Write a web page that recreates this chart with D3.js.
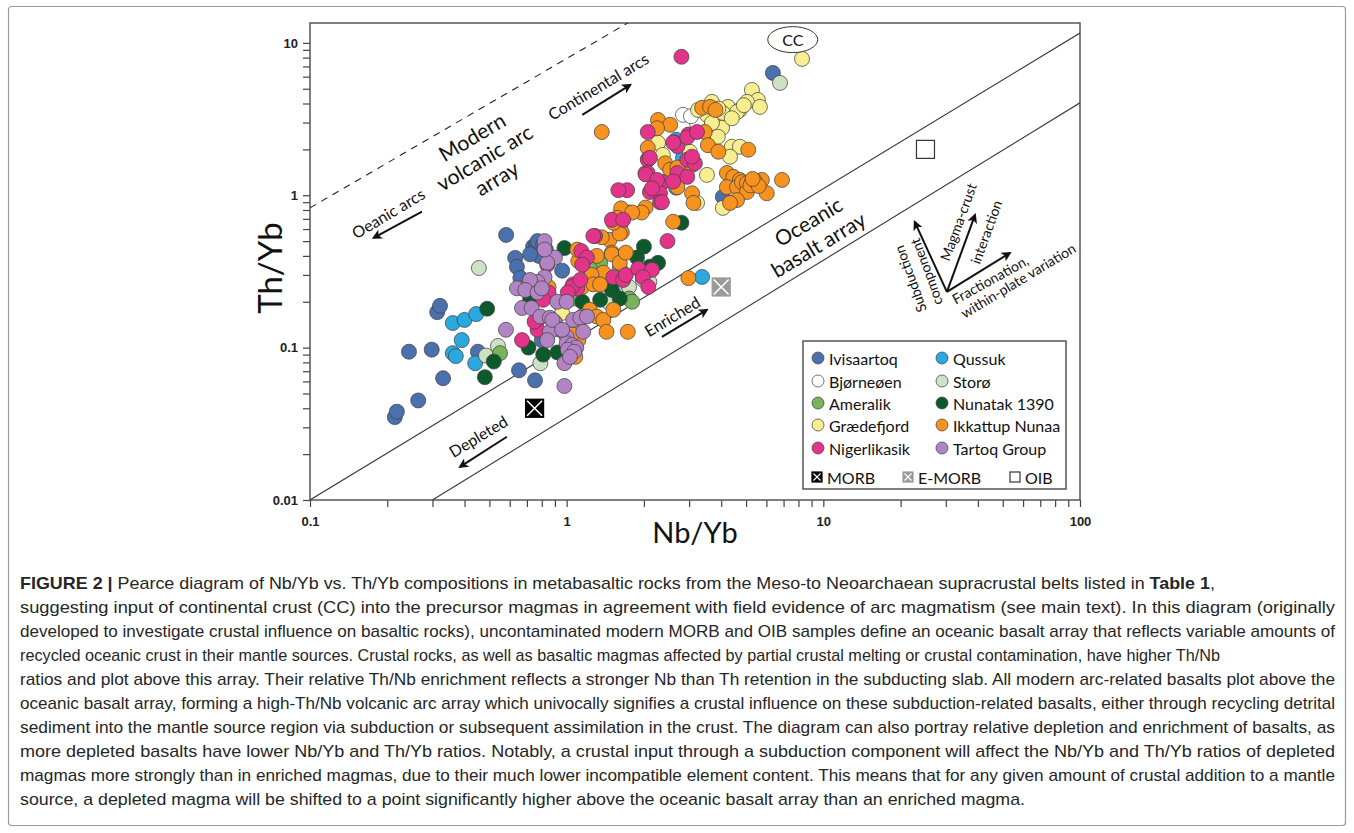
<!DOCTYPE html>
<html>
<head>
<meta charset="utf-8">
<script src="https://cdn.jsdelivr.net/npm/d3@7"></script>
<style>
  body { margin: 0; background: #fff; }
</style>
</head>
<body>
<svg id="chart" width="1354" height="833"></svg>
<script>
// ---- data: [Nb/Yb, Th/Yb] ----
const ivisaartoq = [[0.214,0.035],[0.218,0.038],[0.264,0.045],[0.243,0.094],[0.298,0.097],[0.33,0.063],[0.313,0.171],[0.321,0.188],[0.451,0.094],[0.652,0.071],[0.753,0.061],[0.581,0.549],[0.74,0.46],[0.76,0.47],[0.79,0.45],[0.75,0.43],[0.80,0.41],[0.83,0.44],[0.78,0.40],[0.72,0.41],[0.77,0.50],[0.81,0.48],[0.63,0.388],[0.64,0.339],[0.66,0.287],[0.96,0.32],[4.06,0.975],[6.36,6.35],[0.80,0.112],[0.77,0.215]];
const qussuk = [[0.36,0.145],[0.40,0.152],[0.444,0.166],[0.39,0.112],[0.36,0.092],[0.37,0.088],[0.44,0.079],[3.37,0.291],[3.62,2.98],[2.84,1.76],[2.67,1.12],[2.67,2.31]];
const bjorneoen = [[2.84,3.37],[3.22,2.98],[3.46,3.52],[3.05,3.3]];
const storo = [[0.455,0.333],[0.54,0.1025],[0.485,0.0887],[0.79,0.079],[6.78,5.46],[1.4,0.29],[1.55,0.26],[1.75,0.25],[1.98,0.28],[2.1,0.27],[1.6,0.21],[0.95,0.19],[1.45,0.2]];
const ameralik = [[0.55,0.092],[1.75,0.21],[1.61,0.33],[1.35,0.36],[1.8,0.2],[1.08,0.21],[1.23,0.33],[1.5,0.27]];
const nunatak = [[0.49,0.18],[0.52,0.081],[0.48,0.064],[0.98,0.45],[0.71,0.1],[0.81,0.09],[0.92,0.093],[1.61,0.21],[0.72,0.206],[2.0,0.46],[2.27,0.36],[2.11,0.34],[2.8,0.66],[1.35,0.206],[1.5,0.239],[1.88,0.39],[1.15,0.2]];
const graedefjord = [[8.26,7.85],[5.27,4.91],[5.56,4.22],[5.04,4.10],[4.25,3.80],[4.73,3.63],[5.66,3.80],[3.68,4.10],[3.52,3.37],[3.85,3.12],[4.06,3.47],[4.61,3.52],[4.03,2.77],[3.68,2.98],[3.88,2.42],[4.40,2.08],[4.73,2.08],[4.33,1.79],[3.02,1.93],[2.27,2.21],[2.37,1.84],[3.52,1.36],[4.06,0.826],[3.22,0.891],[3.25,3.63],[0.96,0.169],[4.4,3.2],[4.9,3.9],[3.9,3.7]];
const ikkattup = [[1.37,2.6],[2.27,3.12],[2.53,2.9],[2.25,2.75],[3.37,3.75],[3.62,3.8],[3.8,3.63],[3.45,2.6],[3.55,2.13],[3.9,1.93],[5.1,1.99],[2.07,2.05],[2.42,1.62],[2.53,1.47],[2.7,1.52],[3.08,1.58],[2.03,1.4],[2.7,1.13],[4.21,1.4],[4.46,1.32],[4.73,1.26],[4.21,1.13],[4.61,1.13],[4.82,1.22],[5.04,1.2],[5.27,1.22],[5.5,1.2],[5.76,1.26],[5.04,1.05],[6.02,1.03],[6.9,1.26],[3.08,1.03],[3.12,0.89],[4.61,0.93],[4.33,0.89],[2.6,0.67],[2.03,0.83],[1.96,0.77],[2.08,1.74],[1.75,0.77],[1.61,0.62],[1.47,0.51],[1.37,0.53],[1.5,0.42],[1.63,0.82],[1.8,0.77],[1.57,0.71],[1.64,0.57],[1.5,0.41],[1.31,0.4],[1.61,0.36],[1.7,0.42],[1.39,0.31],[1.25,0.3],[1.15,0.25],[1.27,0.26],[1.35,0.26],[1.23,0.177],[1.31,0.16],[1.39,0.152],[1.15,0.16],[1.52,0.177],[1.43,0.127],[1.73,0.127],[1.13,0.131],[1.11,0.112],[1.05,0.122],[0.68,0.245],[0.85,0.25],[1.11,0.37],[1.1,0.44],[1.61,0.56],[1.52,0.66],[2.98,0.286],[1.08,0.087],[5.2,1.16],[5.4,1.25],[5.6,1.15],[5.3,1.28]];
const nigerlikasik = [[2.8,8.1],[2.07,2.6],[2.98,2.5],[2.64,2.22],[2.7,2.1],[2.6,2.22],[2.95,2.4],[3.22,2.6],[2.95,1.71],[3.16,1.62],[2.07,1.71],[2.07,1.4],[2.03,1.37],[2.37,1.22],[2.2,1.08],[2.11,1.05],[2.31,1.03],[1.72,1.08],[2.31,0.9],[1.5,0.69],[1.66,0.69],[1.29,0.54],[2.47,0.5],[3.08,1.79],[2.11,1.76],[2.25,1.26],[2.15,1.11],[2.7,1.4],[2.95,1.32],[2.6,1.23],[2.35,0.9],[1.59,1.08],[1.27,0.54],[1.14,0.43],[1.2,0.39],[1.15,0.35],[1.06,0.26],[1.1,0.245],[1.05,0.25],[1.13,0.278],[1.01,0.23],[0.85,0.23],[0.81,0.206],[1.52,0.29],[1.66,0.278],[0.77,0.152],[0.77,0.131],[0.67,0.112],[0.84,0.35],[1.7,0.3],[1.9,0.33],[2.15,0.324],[1.98,0.29],[2.08,0.25],[0.75,0.148]];
const tartoq = [[0.58,0.131],[0.98,0.056],[0.98,0.079],[0.82,0.5],[0.9,0.39],[0.84,0.36],[0.82,0.29],[0.77,0.27],[0.72,0.278],[0.64,0.245],[0.69,0.239],[0.77,0.23],[0.8,0.245],[0.67,0.182],[0.73,0.182],[0.92,0.2],[1.0,0.2],[0.79,0.16],[0.86,0.157],[0.9,0.147],[0.94,0.131],[0.86,0.127],[0.84,0.112],[1.0,0.118],[1.06,0.152],[1.13,0.157],[1.2,0.16],[1.16,0.127],[1.0,0.107],[1.05,0.104],[1.09,0.1],[1.01,0.097],[1.07,0.094],[1.03,0.087],[0.82,0.44],[0.88,0.152],[0.96,0.131]];

const seriesNames = ['Ivisaartoq','Qussuk','Bjørneøen','Storø','Ameralik','Nunatak 1390','Grædefjord','Ikkattup Nunaa','Nigerlikasik','Tartoq Group'];
const seriesData = [ivisaartoq, qussuk, bjorneoen, storo, ameralik, nunatak, graedefjord, ikkattup, nigerlikasik, tartoq];
const seriesColors = ['#4a70ad','#2aa8e0','#ffffff','#cde2c4','#78b35a','#0c5a2c','#f7ef8f','#f7921e','#e4338b','#b384c4'];

// reference compositions
const morb = [0.75, 0.04];
const emorb = [4.0, 0.25];
const oib = [25, 2.0];
const cc = [7.6, 10.5];

// array boundaries
const arcLine = [[0.1, 0.826], [1.73, 13.5]];
const basaltUpper = [[0.1, 0.01], [100, 11.6]];
const basaltLower = [[0.3, 0.01], [100, 4.04]];

const xMajor = [0.1, 1, 10, 100];
const xTickLabels = ['0.1', '1', '10', '100'];
const yMajor = [0.01, 0.1, 1, 10];
const yTickLabels = ['0.01', '0.1', '1', '10'];

const captionLines = [
  [['FIGURE 2 | ', true], ['Pearce diagram of Nb/Yb vs. Th/Yb compositions in metabasaltic rocks from the Meso-to Neoarchaean supracrustal belts listed in ', false], ['Table 1', true], [',', false]],
  [['suggesting input of continental crust (CC) into the precursor magmas in agreement with field evidence of arc magmatism (see main text). In this diagram (originally', false]],
  [['developed to investigate crustal influence on basaltic rocks), uncontaminated modern MORB and OIB samples define an oceanic basalt array that reflects variable amounts of', false]],
  [['recycled oceanic crust in their mantle sources. Crustal rocks, as well as basaltic magmas affected by partial crustal melting or crustal contamination, have higher Th/Nb', false]],
  [['ratios and plot above this array. Their relative Th/Nb enrichment reflects a stronger Nb than Th retention in the subducting slab. All modern arc-related basalts plot above the', false]],
  [['oceanic basalt array, forming a high-Th/Nb volcanic arc array which univocally signifies a crustal influence on these subduction-related basalts, either through recycling detrital', false]],
  [['sediment into the mantle source region via subduction or subsequent assimilation in the crust. The diagram can also portray relative depletion and enrichment of basalts, as', false]],
  [['more depleted basalts have lower Nb/Yb and Th/Yb ratios. Notably, a crustal input through a subduction component will affect the Nb/Yb and Th/Yb ratios of depleted', false]],
  [['magmas more strongly than in enriched magmas, due to their much lower incompatible element content. This means that for any given amount of crustal addition to a mantle', false]],
  [['source, a depleted magma will be shifted to a point significantly higher above the oceanic basalt array than an enriched magma.', false]]
];
const captionWidths = [1195, 1315, 1315, 1200, 1315, 1315, 1315, 1315, 1315, 1005];

// ---- drawing ----
const svg = d3.select('#chart');
const W = 1354, H = 833;
const mLeft = 310, mRight = 1080, mTop = 23, mBottom = 500;
const gill = 'Lato, "Open Sans", sans-serif';

svg.append('rect').attr('width', W).attr('height', H).attr('fill', '#fff');
svg.append('rect')
  .attr('x', 8.5).attr('y', 6.5).attr('width', 1337).attr('height', 819)
  .attr('rx', 3).attr('fill', 'none').attr('stroke', '#9a9a9a').attr('stroke-width', 1.2);

const x = d3.scaleLog().domain([0.1, 100]).range([mLeft, mRight]);
const y = d3.scaleLog().domain([0.01, 13.5]).range([mBottom, mTop]);

const defs = svg.append('defs');
defs.append('clipPath').attr('id', 'plot-clip')
  .append('rect').attr('x', mLeft).attr('y', mTop).attr('width', mRight - mLeft).attr('height', mBottom - mTop);
defs.append('marker')
  .attr('id', 'arrow').attr('viewBox', '0 0 10 10')
  .attr('refX', 8).attr('refY', 5)
  .attr('markerWidth', 5).attr('markerHeight', 5)
  .attr('orient', 'auto')
  .append('path').attr('d', 'M0,0 L10,5 L0,10 L2.5,5 Z').attr('fill', '#111');

// minor ticks per decade
function decadeTicks(lo, hi) {
  let out = [];
  for (let d = lo; d < hi * 0.999; d *= 10)
    for (let k = 1; k < 10; k++) out.push(d * k);
  out.push(hi);
  return out;
}

const xAxis = d3.axisBottom(x)
  .tickValues(decadeTicks(0.1, 100))
  .tickSize(7)
  .tickFormat(d => {
    let i = xMajor.findIndex(v => Math.abs(v - d) / v < 1e-6);
    return i < 0 ? '' : xTickLabels[i];
  });
const yAxis = d3.axisLeft(y)
  .tickValues(decadeTicks(0.01, 10))
  .tickSize(7)
  .tickFormat(d => {
    let i = yMajor.findIndex(v => Math.abs(v - d) / v < 1e-6);
    return i < 0 ? '' : yTickLabels[i];
  });

const gx = svg.append('g').attr('transform', `translate(0,${mBottom})`).call(xAxis);
const gy = svg.append('g').attr('transform', `translate(${mLeft},0)`).call(yAxis);
[gx, gy].forEach(g => {
  g.select('.domain').remove();
  g.selectAll('.tick line').attr('stroke', '#444').attr('stroke-width', 1.2);
  g.selectAll('.tick text')
    .attr('fill', '#222')
    .style('font-family', 'Arial, "Liberation Sans", sans-serif')
    .style('font-size', '13px')
    .style('font-weight', 'bold');
});
gx.selectAll('.tick text').attr('dy', '1.25em');
gy.selectAll('.tick text').attr('x', -12);

// plot frame
svg.append('rect')
  .attr('x', mLeft).attr('y', mTop).attr('width', mRight - mLeft).attr('height', mBottom - mTop)
  .attr('fill', 'none').attr('stroke', '#555').attr('stroke-width', 1.5);

const plot = svg.append('g').attr('clip-path', 'url(#plot-clip)');
const line = d3.line().x(d => x(d[0])).y(d => y(d[1]));

plot.append('path').attr('d', line(arcLine))
  .attr('fill', 'none').attr('stroke', '#222').attr('stroke-width', 1.1).attr('stroke-dasharray', '7,6');
[basaltUpper, basaltLower].forEach(l => {
  plot.append('path').attr('d', line(l))
    .attr('fill', 'none').attr('stroke', '#333').attr('stroke-width', 1.1);
});

// text helper
function label(txt, px, py, angle, size, anchor) {
  return svg.append('text')
    .attr('transform', `translate(${px},${py}) rotate(${angle})`)
    .attr('text-anchor', anchor || 'middle')
    .attr('dominant-baseline', 'central')
    .style('font-family', gill)
    .style('font-size', size + 'px')
    .attr('fill', '#111')
    .text(txt);
}
function arrow(a, b) {
  svg.append('line')
    .attr('x1', x(a[0])).attr('y1', y(a[1]))
    .attr('x2', x(b[0])).attr('y2', y(b[1]))
    .attr('stroke', '#111').attr('stroke-width', 2)
    .attr('marker-end', 'url(#arrow)');
}

const ang = -31;
// volcanic arc array
[['Modern', -24], ['volcanic arc', 0], ['array', 24]].forEach(([t, dy]) => {
  svg.append('text')
    .attr('transform', `translate(484,157) rotate(${ang})`)
    .attr('y', dy).attr('text-anchor', 'middle').attr('dominant-baseline', 'central')
    .style('font-family', gill).style('font-size', '21px').attr('fill', '#111')
    .text(t);
});
label('Oeanic arcs', 388, 213, ang, 16);
arrow([0.273, 0.78], [0.177, 0.525]);
label('Continental arcs', 598, 86, ang, 16);
arrow([1.15, 3.37], [1.77, 5.3]);

// oceanic basalt array
label('Oceanic', 808, 221, ang, 21);
label('basalt array', 818, 244, ang, 21);
label('Enriched', 672, 316, ang, 16);
arrow([2.35, 0.1175], [3.52, 0.177]);
label('Depleted', 478, 436, ang, 16);
arrow([0.585, 0.026], [0.384, 0.0165]);

// process vectors
const vOrigin = [30.3, 0.232];
arrow(vOrigin, [22.7, 0.668]);
arrow(vOrigin, [39.0, 0.743]);
arrow(vOrigin, [53.3, 0.418]);
label('Subduction', 910, 279, -110, 14);
label('component', 926, 272, -110, 14);
label('Magma-crust', 958, 222, -70, 14);
label('interaction', 986, 232, -70, 14);
label('Fractionation,', 953, 300, -29, 14, 'start');
label('within-plate variation', 962, 314, -31, 14, 'start');

// CC label
svg.append('ellipse')
  .attr('cx', x(cc[0])).attr('cy', y(cc[1])).attr('rx', 25).attr('ry', 13)
  .attr('fill', '#fff').attr('stroke', '#333').attr('stroke-width', 1);
label('CC', x(cc[0]), y(cc[1]), 0, 16);

// sample points
seriesData.forEach((data, i) => {
  plot.append('g').selectAll('circle')
    .data(data)
    .join('circle')
    .attr('cx', d => x(d[0]))
    .attr('cy', d => y(d[1]))
    .attr('r', 7.5)
    .attr('fill', seriesColors[i])
    .attr('stroke', '#444')
    .attr('stroke-width', 0.75);
});

// reference markers
function crossBox(g, cx, cy, s, fill, stroke, cross) {
  g.append('rect').attr('x', cx - s / 2).attr('y', cy - s / 2).attr('width', s).attr('height', s)
    .attr('fill', fill).attr('stroke', stroke).attr('stroke-width', 1.2);
  if (cross) {
    let k = s / 2 - 1.5;
    g.append('path')
      .attr('d', `M${cx - k},${cy - k}L${cx + k},${cy + k}M${cx + k},${cy - k}L${cx - k},${cy + k}`)
      .attr('stroke', cross).attr('stroke-width', s > 12 ? 1.6 : 1.1);
  }
}
crossBox(plot, x(morb[0]), y(morb[1]), 18, '#000', '#000', '#fff');
crossBox(plot, x(emorb[0]), y(emorb[1]), 18, '#9a9a9a', '#9a9a9a', '#fff');
crossBox(plot, x(oib[0]), y(oib[1]), 18, '#fff', '#333', null);

// legend
const lg = svg.append('g');
lg.append('rect').attr('x', 803).attr('y', 341).attr('width', 263).attr('height', 148)
  .attr('fill', '#fff').attr('stroke', '#555').attr('stroke-width', 1.5);
const rowsY = [358, 381, 403, 425, 448];
const colX = [818, 942];
seriesNames.forEach((name, i) => {
  let cx = colX[i % 2], cy = rowsY[Math.floor(i / 2)];
  lg.append('circle').attr('cx', cx).attr('cy', cy).attr('r', 6)
    .attr('fill', seriesColors[i]).attr('stroke', '#444').attr('stroke-width', 0.75);
  lg.append('text').attr('x', cx + 11).attr('y', cy).attr('dominant-baseline', 'central')
    .style('font-family', gill).style('font-size', '16px').attr('fill', '#111').text(name);
});
const refLegend = [['MORB', 817, '#000', '#000', '#fff'], ['E-MORB', 908, '#9a9a9a', '#9a9a9a', '#fff'], ['OIB', 1015, '#fff', '#333', null]];
refLegend.forEach(([name, cx, fill, stroke, cross]) => {
  crossBox(lg, cx, 477, 10, fill, stroke, cross);
  lg.append('text').attr('x', cx + 10).attr('y', 477).attr('dominant-baseline', 'central')
    .style('font-family', gill).style('font-size', '16px').attr('fill', '#111').text(name);
});

// axis titles
svg.append('text')
  .attr('transform', `translate(269,268) rotate(-90)`)
  .attr('text-anchor', 'middle').attr('dominant-baseline', 'central')
  .style('font-family', gill).style('font-size', '33px').attr('fill', '#111')
  .text('Th/Yb');
svg.append('text')
  .attr('x', 695).attr('y', 531)
  .attr('text-anchor', 'middle').attr('dominant-baseline', 'central')
  .style('font-family', gill).style('font-size', '29px').attr('fill', '#111')
  .text('Nb/Yb');

// caption
const cap = svg.append('g')
  .style('font-family', '"Liberation Sans Narrow", "Liberation Sans", Arial, sans-serif')
  .style('font-size', '17px')
  .attr('fill', '#262626');
captionLines.forEach((segs, i) => {
  let t = cap.append('text')
    .attr('x', 20).attr('y', 589 + i * 24)
    .attr('textLength', captionWidths[i])
    .attr('lengthAdjust', 'spacingAndGlyphs')
    .attr('xml:space', 'preserve');
  segs.forEach(([s, b]) => {
    t.append('tspan').style('font-weight', b ? 'bold' : 'normal').text(s);
  });
});
</script>
</body>
</html>
